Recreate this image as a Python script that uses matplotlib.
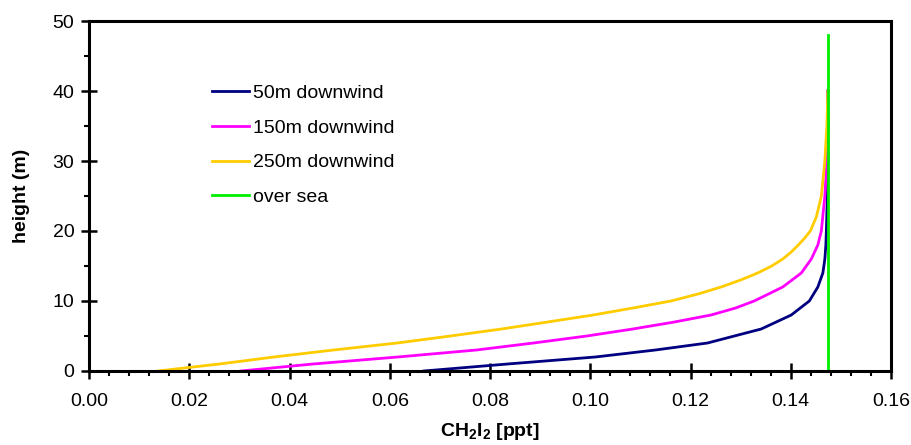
import numpy as np
import matplotlib as mpl
import matplotlib.pyplot as plt
from matplotlib.ticker import MultipleLocator


# heights (m) and CH2I2 (ppt)
H_50 = [0, 1, 2, 3, 4, 6, 8, 10, 12, 14, 16, 18, 20, 25, 30, 35, 40]
X_50 = [0.0668, 0.0835, 0.1010, 0.1130, 0.1234, 0.1341, 0.1401, 0.1437,
        0.1454, 0.1464, 0.1468, 0.1470, 0.1471, 0.1473, 0.1474, 0.1474, 0.1474]

H_150 = [0, 1, 2, 3, 4, 5, 6, 7, 8, 9, 10, 12, 14, 16, 18, 20, 25, 30, 35, 40]
X_150 = [0.0303, 0.0447, 0.0616, 0.0773, 0.0887, 0.0993, 0.1085, 0.1168,
         0.1241, 0.1290, 0.1327, 0.1384, 0.1421, 0.1441, 0.1454, 0.1461,
         0.1468, 0.1472, 0.1474, 0.1474]

H_250 = [0, 1, 2, 3, 4, 5, 6, 7, 8, 9, 10, 11, 12, 13, 14, 15, 16, 17, 18,
         19, 20, 22, 25, 30, 35, 40]
X_250 = [0.0138, 0.0260, 0.0369, 0.0488, 0.0615, 0.0721, 0.0823, 0.0915,
         0.1006, 0.1085, 0.1161, 0.1215, 0.1261, 0.1300, 0.1334, 0.1362,
         0.1384, 0.1401, 0.1415, 0.1428, 0.1439, 0.1451, 0.1461, 0.1468,
         0.1472, 0.1474]

H_SEA = [0, 10, 20, 30, 40, 48]
X_SEA = [0.1474, 0.1474, 0.1474, 0.1474, 0.1474, 0.1474]

SERIES = [
    ('50m downwind',  H_50,  X_50,  '#000080'),
    ('150m downwind', H_150, X_150, '#FF00FF'),
    ('250m downwind', H_250, X_250, '#FFCC00'),
    ('over sea',      H_SEA, X_SEA, '#00EE00'),
]

mpl.rcParams.update({
    'font.family':      ['Liberation Sans', 'DejaVu Sans'],
    'font.size':        14,
    'mathtext.fontset': 'custom',
    'mathtext.rm':      'Liberation Sans',
    'mathtext.bf':      'Liberation Sans:bold',
})

fig = plt.figure(figsize=(9.12, 4.45), dpi=100)
ax = fig.add_axes([0.0976, 0.1663, 0.8794, 0.7865])

for label, h, x, col in SERIES:
    ax.plot(x, h, color=col, linewidth=2.0, label=label,
            solid_joinstyle='round')

ax.set_xlim(0, 0.16)
ax.set_ylim(0, 50)
ax.xaxis.set_major_locator(MultipleLocator(0.02))
ax.xaxis.set_minor_locator(MultipleLocator(0.004))
ax.yaxis.set_major_locator(MultipleLocator(10))
ax.yaxis.set_minor_locator(MultipleLocator(5))
ax.xaxis.set_major_formatter(mpl.ticker.FormatStrFormatter('%.2f'))

ax.tick_params(which='major', direction='inout', length=11, width=1.8,
               labelsize=14)
ax.tick_params(which='minor', direction='out', length=3.5, width=1.5)
ax.tick_params(axis='y', which='major', pad=5)
ax.tick_params(axis='x', which='major', pad=10)
for sp in ax.spines.values():
    sp.set_linewidth(2.2)

ax.set_xlabel(r'$\mathbf{CH_2I_2}$ [ppt]', fontsize=14,
              fontweight='bold', labelpad=8)
ax.set_ylabel('height (m)', fontsize=14, fontweight='bold', labelpad=16)

ax.legend(loc='upper left', bbox_to_anchor=(0.153, 0.819),
          frameon=False, borderpad=0, borderaxespad=0,
          handlelength=1.9, handletextpad=0.22, labelspacing=0.88,
          fontsize=14)

fig.savefig('out.png', dpi=100)
